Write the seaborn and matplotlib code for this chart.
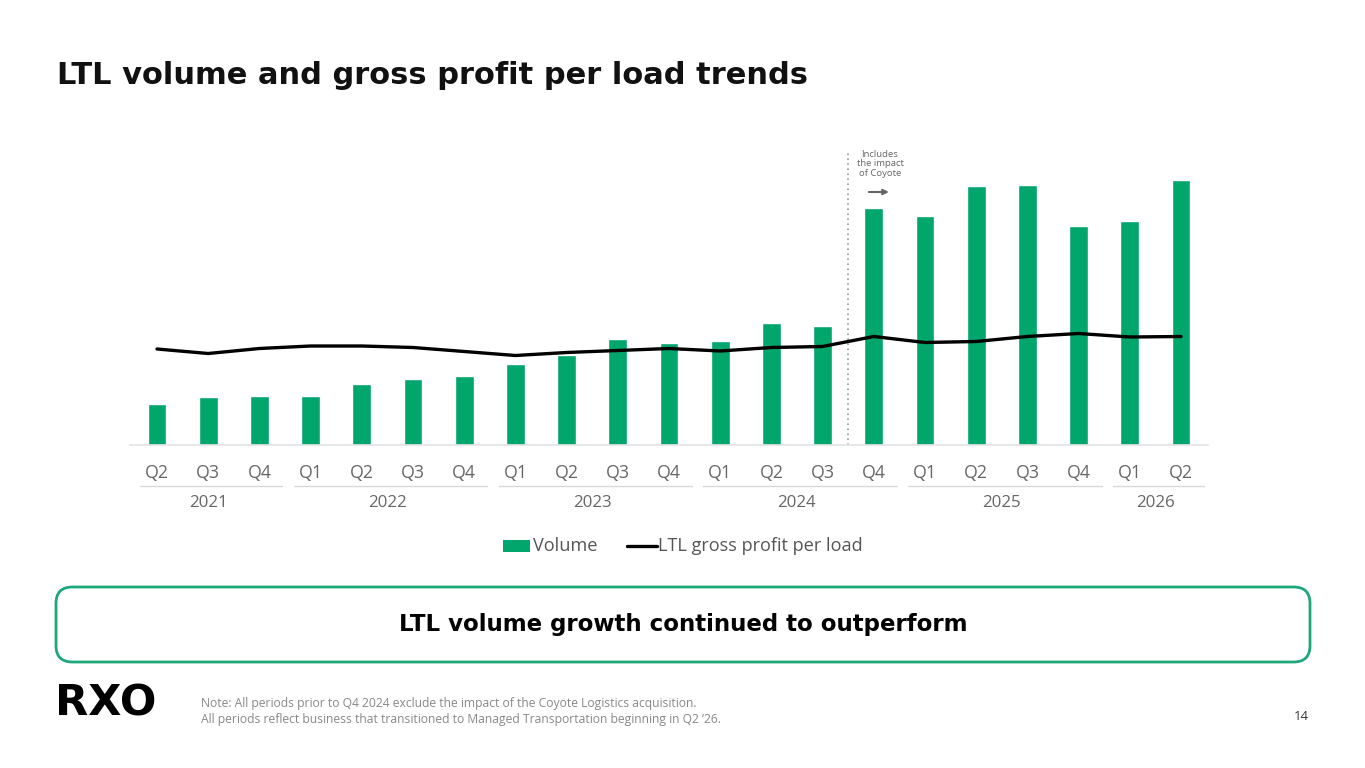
import numpy as np
import pandas as pd
import matplotlib
matplotlib.use("Agg")
import matplotlib.pyplot as plt
import seaborn as sns
from matplotlib.patches import FancyBboxPatch, Rectangle
from matplotlib.lines import Line2D
from matplotlib.transforms import blended_transform_factory

# ---- data ----
quarters = ["Q2", "Q3", "Q4",
            "Q1", "Q2", "Q3", "Q4",
            "Q1", "Q2", "Q3", "Q4",
            "Q1", "Q2", "Q3", "Q4",
            "Q1", "Q2", "Q3", "Q4",
            "Q1", "Q2"]
years = ["2021"] * 3 + ["2022"] * 4 + ["2023"] * 4 + ["2024"] * 4 + ["2025"] * 4 + ["2026"] * 2
year_labels = ["2021", "2022", "2023", "2024", "2025", "2026"]
volume = [41, 48, 49, 49, 61, 65.5, 69, 81, 90, 106, 102,
          104, 122, 118.5, 237, 228.5, 258.5, 260, 219, 223.5, 265]
gp_per_load = [95.5, 91, 96, 98.5, 98.5, 97, 93, 89, 92, 94, 96,
               93.5, 97, 98, 108, 102, 103, 108, 111, 107.5, 108]

GREEN = "#00A66B"
GRAY = "#666666"

sns.set_theme(style="white")
plt.rcParams["font.family"] = ["Open Sans", "DejaVu Sans"]

W, H = 1365, 768
fig = plt.figure(figsize=(W / 100, H / 100), dpi=100)
fig.patch.set_facecolor("white")

def fx(px):
    return px / W

def fy(py):
    return 1 - py / H

# chart axes: left 130 px, right 1208 px, top 150 px, baseline 444.5 px
ax_l, ax_r, ax_t, ax_b = 130, 1208, 150, 444.5
ax = fig.add_axes([fx(ax_l), fy(ax_b), fx(ax_r - ax_l), (ax_b - ax_t) / H])

df = pd.DataFrame({"period": [f"{q} {y}" for q, y in zip(quarters, years)],
                   "volume": volume})
sns.barplot(data=df, x="period", y="volume", color=GREEN, width=0.37,
            saturation=1, ax=ax, zorder=2)
xs = np.arange(len(quarters))
sns.lineplot(x=xs, y=gp_per_load, color="black", linewidth=2.4, ax=ax, zorder=3)

spacing = (1181 - 157) / 20
ax.set_xlim((ax_l - 157) / spacing, (ax_r - 157) / spacing)
ax.set_ylim(0, ax_b - ax_t)
ax.set_xticks(xs)
ax.set_xticklabels(quarters, fontsize=12.8, color=GRAY)
ax.tick_params(axis="x", length=0, pad=14)
ax.set_yticks([])
ax.set_xlabel("")
ax.set_ylabel("")
for s in ["top", "right", "left"]:
    ax.spines[s].set_visible(False)
ax.spines["bottom"].set_color("#e3e3e3")
ax.spines["bottom"].set_linewidth(1.2)
ax.set_facecolor("none")

# dotted separator before Coyote
sep_x = 13.5
ax.axvline(sep_x, ymin=0, ymax=1, color="#999999", linestyle=(0, (1, 2)),
           linewidth=1.2, zorder=1)
ax.text(14.12, ax_b - 164, "Includes\nthe impact\nof Coyote", ha="center", va="center",
        fontsize=6.8, color=GRAY, linespacing=1.05)
ax.annotate("", xy=(14.35, ax_b - 192), xytext=(13.85, ax_b - 192),
            arrowprops=dict(arrowstyle="-|>", color=GRAY, lw=1.5, mutation_scale=8))

# year groups
trans = blended_transform_factory(ax.transData, fig.transFigure)
for yl in year_labels:
    idx = [i for i, y in enumerate(years) if y == yl]
    x0, x1 = idx[0] - 0.33, idx[-1] + 0.45
    ax.add_line(Line2D([x0, x1], [fy(486), fy(486)], transform=trans,
                       color="#d9d9d9", linewidth=1.0, clip_on=False))
    ax.text((idx[0] + idx[-1]) / 2, fy(503), yl, transform=trans, ha="center",
            va="center", fontsize=12.2, color=GRAY)

# legend
fig.patches.append(Rectangle((fx(503), fy(552)), fx(27), 12 / H, transform=fig.transFigure,
                             facecolor=GREEN, edgecolor="none"))
fig.text(fx(533), fy(546), "Volume", fontsize=13.1, color="#555555", va="center", ha="left")
fig.lines.append(Line2D([fx(627), fx(657)], [fy(546), fy(546)], transform=fig.transFigure,
                        color="black", linewidth=2.4))
fig.text(fx(658), fy(546), "LTL gross profit per load", fontsize=13.1, color="#555555",
         va="center", ha="left")

# title
fig.text(fx(57), fy(76), "LTL volume and gross profit per load trends", fontsize=22,
         fontweight="bold", color="#111111", va="center", ha="left",
         family=["DejaVu Sans"])

# callout box
box = FancyBboxPatch((fx(56), fy(662)), fx(1254), 75 / H,
                     boxstyle="round,pad=0,rounding_size=0.012",
                     transform=fig.transFigure, facecolor="white",
                     edgecolor="#1FA877", linewidth=2.0, mutation_aspect=W / H)
fig.patches.append(box)
fig.text(fx(683), fy(624), "LTL volume growth continued to outperform", fontsize=16.5,
         fontweight="bold", color="black", ha="center", va="center",
         family=["DejaVu Sans"])

# logo + footnote
fig.text(fx(55), fy(704), "RXO", fontsize=31, fontweight="bold", color="black",
         ha="left", va="center", family=["DejaVu Sans"])
fig.text(fx(201), fy(704), "Note: All periods prior to Q4 2024 exclude the impact of the Coyote Logistics acquisition.",
         fontsize=8.7, color="#888888", ha="left", va="center")
fig.text(fx(201), fy(719), "All periods reflect business that transitioned to Managed Transportation beginning in Q2 \u201926.",
         fontsize=8.7, color="#888888", ha="left", va="center")
fig.text(fx(1309), fy(717), "14", fontsize=9.5, color="#333333", ha="right", va="center")

fig.savefig("out.png", dpi=100)
